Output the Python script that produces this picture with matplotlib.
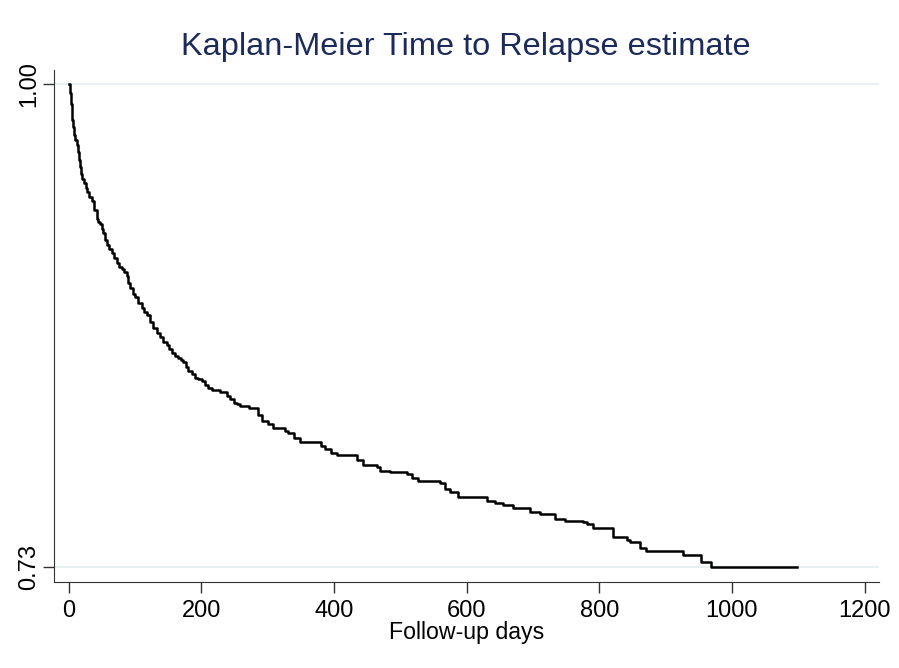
import matplotlib
matplotlib.use("Agg")
import matplotlib.pyplot as plt

# Kaplan-Meier step points (day, survival after the step)
days = [0, 1.5, 3.3, 4.5, 5.7, 7.0, 8.3, 10.3, 12.4, 14.0, 15.8, 17.0, 18.4,
        21.0, 23.4, 26.0, 28.3, 31.5, 35.0, 38.5, 42.5, 45.0, 47.5, 50.0, 52.5,
        55.0, 57.6, 61.0, 65.1, 69.0, 72.7, 76.5, 80.2, 84.0, 87.8, 90.0, 92.7,
        96.5, 100.3, 105.0, 110.4, 114.0, 117.9, 123.0, 127.9, 133.0, 138.0,
        143.0, 148.1, 152.0, 155.6, 160.5, 165.6, 169.0, 173.1, 177.0, 180.6,
        185.5, 190.7, 195.5, 200.8, 205.5, 210.8, 217.0, 228.5, 238.5, 243.5,
        249.0, 254.0, 258.5, 272.0, 286.0, 291.7, 300.0, 308.4, 327.0, 331.0,
        340.0, 349.1, 380.0, 386.8, 396.0, 404.9, 435.0, 444.1, 465.2, 469.7,
        484.8, 510.4, 518.0, 527.0, 560.2, 567.7, 575.3, 587.3, 631.0, 643.0,
        655.2, 670.3, 695.9, 711.0, 733.6, 748.7, 775.8, 781.9, 790.9, 821.1,
        842.2, 846.7, 861.8, 870.8, 926.6, 953.8, 968.8, 1098.5]
surv = [1.000, 0.995, 0.989, 0.985, 0.980, 0.976, 0.972, 0.969, 0.966, 0.962,
        0.958, 0.954, 0.950, 0.947, 0.945, 0.942, 0.940, 0.937, 0.935, 0.930,
        0.925, 0.923, 0.922, 0.919, 0.917, 0.913, 0.910, 0.908, 0.906, 0.903,
        0.900, 0.898, 0.897, 0.895, 0.893, 0.889, 0.886, 0.883, 0.881, 0.878,
        0.875, 0.873, 0.871, 0.867, 0.864, 0.861, 0.859, 0.856, 0.854, 0.852,
        0.850, 0.848, 0.847, 0.846, 0.845, 0.842, 0.840, 0.838, 0.836, 0.835,
        0.834, 0.832, 0.830, 0.829, 0.828, 0.826, 0.824, 0.822, 0.821, 0.820,
        0.819, 0.815, 0.812, 0.810, 0.808, 0.806, 0.805, 0.802, 0.800, 0.798,
        0.796, 0.794, 0.793, 0.790, 0.787, 0.786, 0.784, 0.783, 0.782, 0.780,
        0.778, 0.777, 0.774, 0.772, 0.769, 0.767, 0.766, 0.765, 0.763, 0.761,
        0.760, 0.757, 0.756, 0.755, 0.754, 0.752, 0.747, 0.745, 0.744, 0.741,
        0.739, 0.737, 0.733, 0.730, 0.730]

x_ticks = [0, 200, 400, 600, 800, 1000, 1200]
y_ticks = [0.73, 1.00]
y_labels = ["0.73", "1.00"]

plt.rcParams['font.family'] = ['Liberation Sans', 'DejaVu Sans']

fig = plt.figure(figsize=(8.99, 6.68), dpi=100)
ax = fig.add_axes([0.060, 0.129, 0.918, 0.766])

for y in y_ticks:
    ax.axhline(y, color='#e8f0f2', lw=1.5, zorder=0)

ax.step(days, surv, where='post', color='black', lw=1.8)

ax.set_xlim(-22, 1222)
ax.set_ylim(0.7218, 1.008)
ax.set_xticks(x_ticks)
ax.set_yticks(y_ticks)
ax.set_yticklabels(y_labels, rotation=90, va='center')
ax.tick_params(axis='both', labelsize=17, length=8, width=1, color='#333333')
ax.tick_params(axis='x', pad=5)
ax.tick_params(axis='y', pad=2)

for side in ['top', 'right']:
    ax.spines[side].set_visible(False)
for side in ['left', 'bottom']:
    ax.spines[side].set_color('#333333')

ax.set_xlabel('Follow-up days', fontsize=16.7)
ax.xaxis.set_label_coords(0.5, -0.1)
ax.xaxis.label.set_va('center')

fig.text(0.518, 0.930, 'Kaplan-Meier Time to Relapse estimate', fontsize=23.4,
         color='#1c2b5a', ha='center', va='center')

fig.savefig('out.png', dpi=100, facecolor='white')
